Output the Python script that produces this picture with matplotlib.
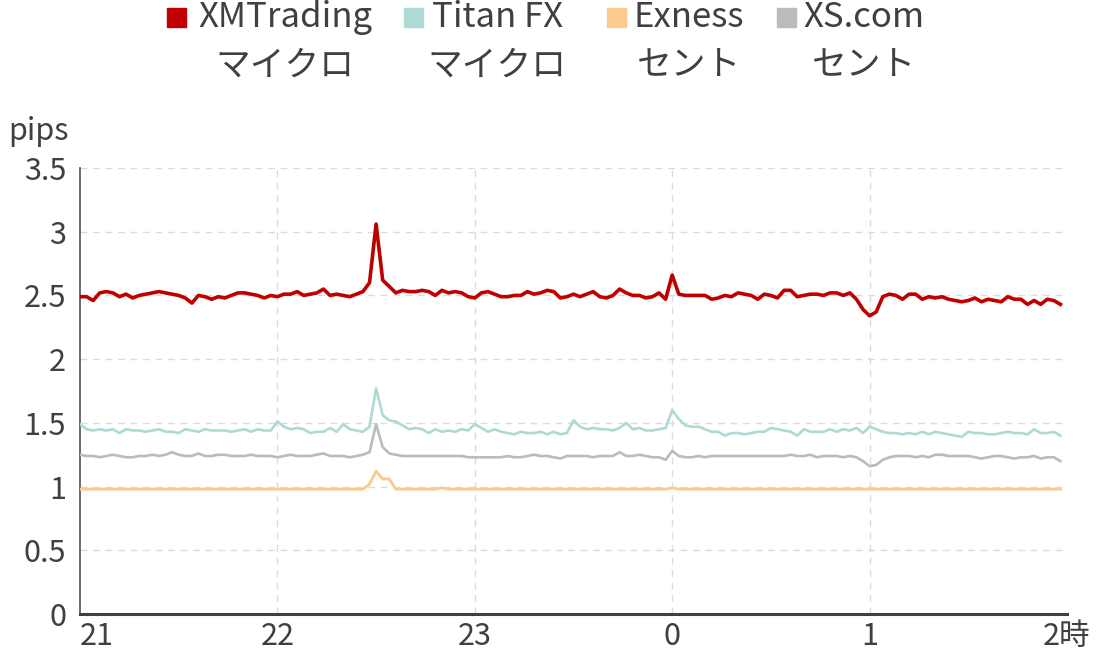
import numpy as np
import matplotlib.pyplot as plt
from matplotlib.patches import Rectangle

plt.rcParams['font.family'] = ['Noto Sans CJK JP', 'DejaVu Sans']

# minutes after 21:00, sampled every 2 min
minutes = np.arange(0, 300, 2)

xm = [2.49, 2.49, 2.46, 2.52, 2.53, 2.52, 2.49, 2.51, 2.48, 2.50,
      2.51, 2.52, 2.53, 2.52, 2.51, 2.50, 2.48, 2.44, 2.50, 2.49,
      2.47, 2.49, 2.48, 2.50, 2.52, 2.52, 2.51, 2.50, 2.48, 2.50,
      2.49, 2.51, 2.51, 2.53, 2.50, 2.51, 2.52, 2.55, 2.50, 2.51,
      2.50, 2.49, 2.51, 2.53, 2.60, 3.06, 2.62, 2.57, 2.52, 2.54,
      2.53, 2.53, 2.54, 2.53, 2.50, 2.54, 2.52, 2.53, 2.52, 2.49,
      2.48, 2.52, 2.53, 2.51, 2.49, 2.49, 2.50, 2.50, 2.53, 2.51,
      2.52, 2.54, 2.53, 2.48, 2.49, 2.51, 2.49, 2.51, 2.53, 2.49,
      2.48, 2.50, 2.55, 2.52, 2.50, 2.50, 2.48, 2.49, 2.52, 2.47,
      2.66, 2.51, 2.50, 2.50, 2.50, 2.50, 2.47, 2.48, 2.50, 2.49,
      2.52, 2.51, 2.50, 2.47, 2.51, 2.50, 2.48, 2.54, 2.54, 2.49,
      2.50, 2.51, 2.51, 2.50, 2.52, 2.52, 2.50, 2.52, 2.47, 2.39,
      2.34, 2.37, 2.49, 2.51, 2.50, 2.47, 2.51, 2.51, 2.47, 2.49,
      2.48, 2.49, 2.47, 2.46, 2.45, 2.46, 2.48, 2.45, 2.47, 2.46,
      2.45, 2.49, 2.47, 2.47, 2.43, 2.46, 2.43, 2.47, 2.46, 2.43]

titan = [1.49, 1.45, 1.44, 1.45, 1.44, 1.45, 1.42, 1.45, 1.44, 1.44,
         1.43, 1.44, 1.45, 1.43, 1.43, 1.42, 1.45, 1.44, 1.43, 1.45,
         1.44, 1.44, 1.44, 1.43, 1.44, 1.45, 1.43, 1.45, 1.44, 1.44,
         1.51, 1.47, 1.45, 1.46, 1.45, 1.42, 1.43, 1.43, 1.46, 1.43,
         1.49, 1.45, 1.44, 1.43, 1.47, 1.77, 1.56, 1.52, 1.51, 1.48,
         1.45, 1.46, 1.45, 1.42, 1.45, 1.43, 1.44, 1.43, 1.45, 1.44,
         1.49, 1.46, 1.43, 1.45, 1.43, 1.42, 1.41, 1.43, 1.42, 1.42,
         1.43, 1.41, 1.43, 1.41, 1.42, 1.52, 1.47, 1.45, 1.46, 1.45,
         1.45, 1.44, 1.46, 1.50, 1.45, 1.46, 1.44, 1.44, 1.45, 1.46,
         1.60, 1.53, 1.48, 1.47, 1.47, 1.45, 1.43, 1.43, 1.40, 1.42,
         1.42, 1.41, 1.42, 1.43, 1.43, 1.46, 1.45, 1.44, 1.43, 1.40,
         1.45, 1.43, 1.43, 1.43, 1.45, 1.43, 1.45, 1.44, 1.46, 1.42,
         1.47, 1.45, 1.43, 1.42, 1.42, 1.41, 1.42, 1.41, 1.43, 1.41,
         1.43, 1.42, 1.41, 1.40, 1.39, 1.43, 1.42, 1.42, 1.41, 1.41,
         1.42, 1.43, 1.42, 1.42, 1.41, 1.45, 1.42, 1.42, 1.43, 1.40]

exness = [0.98, 0.98, 0.98, 0.98, 0.98, 0.98, 0.98, 0.98, 0.98, 0.98,
          0.98, 0.98, 0.98, 0.98, 0.98, 0.98, 0.98, 0.98, 0.98, 0.98,
          0.98, 0.98, 0.98, 0.98, 0.98, 0.98, 0.98, 0.98, 0.98, 0.98,
          0.98, 0.98, 0.98, 0.98, 0.98, 0.98, 0.98, 0.98, 0.98, 0.98,
          0.98, 0.98, 0.98, 0.98, 1.02, 1.12, 1.06, 1.06, 0.98, 0.98,
          0.98, 0.98, 0.98, 0.98, 0.98, 0.99, 0.98, 0.98, 0.98, 0.98,
          0.98, 0.98, 0.98, 0.98, 0.98, 0.98, 0.98, 0.98, 0.98, 0.98,
          0.98, 0.98, 0.98, 0.98, 0.98, 0.98, 0.98, 0.98, 0.98, 0.98,
          0.98, 0.98, 0.98, 0.98, 0.98, 0.98, 0.98, 0.98, 0.98, 0.98,
          0.99, 0.98, 0.98, 0.98, 0.98, 0.98, 0.98, 0.98, 0.98, 0.98,
          0.98, 0.98, 0.98, 0.98, 0.98, 0.98, 0.98, 0.98, 0.98, 0.98,
          0.98, 0.98, 0.98, 0.98, 0.98, 0.98, 0.98, 0.98, 0.98, 0.98,
          0.98, 0.98, 0.98, 0.98, 0.98, 0.98, 0.98, 0.98, 0.98, 0.98,
          0.98, 0.98, 0.98, 0.98, 0.98, 0.98, 0.98, 0.98, 0.98, 0.98,
          0.98, 0.98, 0.98, 0.98, 0.98, 0.98, 0.98, 0.98, 0.98, 0.98]

xs = [1.25, 1.24, 1.24, 1.23, 1.24, 1.25, 1.24, 1.23, 1.23, 1.24,
      1.24, 1.25, 1.24, 1.25, 1.27, 1.25, 1.24, 1.24, 1.26, 1.24,
      1.24, 1.25, 1.25, 1.24, 1.24, 1.24, 1.25, 1.24, 1.24, 1.24,
      1.23, 1.24, 1.25, 1.24, 1.24, 1.24, 1.25, 1.26, 1.24, 1.24,
      1.24, 1.23, 1.24, 1.25, 1.27, 1.49, 1.31, 1.26, 1.25, 1.24,
      1.24, 1.24, 1.24, 1.24, 1.24, 1.24, 1.24, 1.24, 1.24, 1.23,
      1.23, 1.23, 1.23, 1.23, 1.23, 1.24, 1.23, 1.23, 1.24, 1.25,
      1.24, 1.24, 1.23, 1.22, 1.24, 1.24, 1.24, 1.24, 1.23, 1.24,
      1.24, 1.24, 1.27, 1.24, 1.24, 1.25, 1.24, 1.23, 1.23, 1.21,
      1.28, 1.24, 1.23, 1.23, 1.24, 1.23, 1.24, 1.24, 1.24, 1.24,
      1.24, 1.24, 1.24, 1.24, 1.24, 1.24, 1.24, 1.24, 1.25, 1.24,
      1.24, 1.25, 1.23, 1.24, 1.24, 1.24, 1.23, 1.24, 1.23, 1.20,
      1.16, 1.17, 1.21, 1.23, 1.24, 1.24, 1.24, 1.23, 1.24, 1.23,
      1.25, 1.25, 1.24, 1.24, 1.24, 1.24, 1.23, 1.22, 1.23, 1.24,
      1.24, 1.23, 1.22, 1.23, 1.23, 1.24, 1.22, 1.23, 1.23, 1.20]

names = ['XMTrading\nマイクロ', 'Titan FX\nマイクロ', 'Exness\nセント', 'XS.com\nセント']
colors = ['#C00000', '#AEDAD6', '#FBCB8E', '#BBBBBB']
tick_pos = [0, 60, 120, 180, 240, 300]
tick_labels = ['21', '22', '23', '0', '1', '2時']
text_col = '#404040'

fig = plt.figure(figsize=(11, 6.54), dpi=100)
ax = fig.add_axes([80/1100, 40/654, 987/1100, 446/654])

ax.plot(minutes, xs, color=colors[3], lw=1.9, zorder=3)
ax.plot(minutes, exness, color=colors[2], lw=2.1, zorder=3)
ax.plot(minutes, titan, color=colors[1], lw=1.9, zorder=4)
ax.plot(minutes, xm, color=colors[0], lw=2.6, zorder=5)

ax.set_xlim(0, 300)
ax.set_ylim(0, 3.5)
ax.set_yticks(np.arange(0, 3.51, 0.5))
ax.set_yticklabels(['0', '0.5', '1', '1.5', '2', '2.5', '3', '3.5'])
ax.set_xticks(tick_pos)
ax.set_xticklabels(tick_labels)
ax.tick_params(length=0, labelsize=22, colors=text_col)
ax.tick_params(axis='y', pad=10)
ax.tick_params(axis='x', pad=5)
ax.get_xticklabels()[0].set_horizontalalignment('left')

ax.grid(True, ls=(0, (5, 4)), color='#dcdcdc', lw=1)
ax.get_xgridlines()[-1].set_visible(False)
ax.get_xgridlines()[0].set_visible(False)
ax.set_axisbelow(True)
for s in ['top', 'right']:
    ax.spines[s].set_visible(False)
ax.spines['left'].set_color('#606060')
ax.spines['left'].set_linewidth(1.3)
ax.spines['bottom'].set_color('#404040')
ax.spines['bottom'].set_linewidth(2.2)

fig.text(8/1100, 1 - 140/654, 'pips', fontsize=22, color=text_col, va='baseline')

# legend drawn by hand
leg_sq = [167, 404, 607, 777]
leg_txt = [285, 497, 689, 864]
for i in range(4):
    fig.patches.append(Rectangle((leg_sq[i]/1100, 1 - 27/654), 19/1100, 19/654,
                                 transform=fig.transFigure, color=colors[i]))
    fig.text(leg_txt[i]/1100, 1 - 0/654, names[i], fontsize=25, color=text_col,
             ha='center', va='top', multialignment='center', linespacing=1.5)

fig.savefig('out.png', dpi=100)
